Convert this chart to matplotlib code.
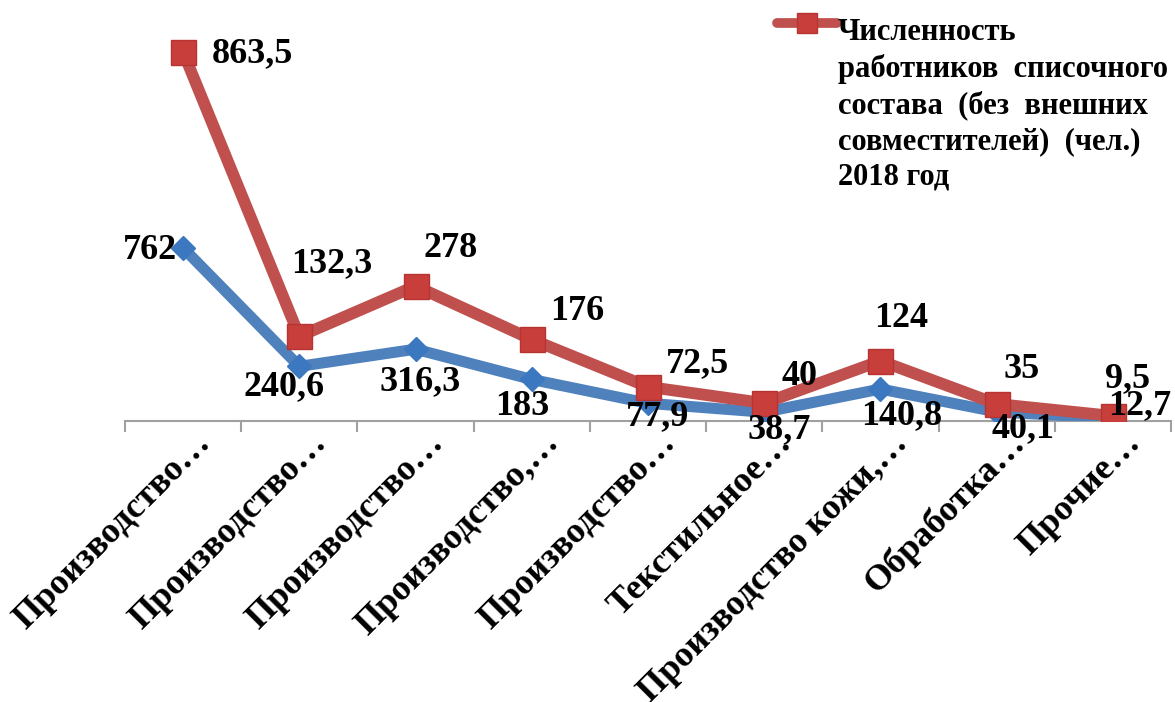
import numpy as np
import matplotlib
matplotlib.use("Agg")
import matplotlib.pyplot as plt
import matplotlib.transforms as mtransforms
from matplotlib.lines import Line2D

plt.rcParams["font.family"] = ["Liberation Serif", "DejaVu Serif"]
plt.rcParams["font.weight"] = "bold"

categories = ["Производство…", "Производство…", "Производство…", "Производство,…",
              "Производство…", "Текстильное…", "Производство кожи,…", "Обработка…", "Прочие…"]
blue_vals = np.array([762, 240.6, 316.3, 183, 77.9, 38.7, 140.8, 40.1, 12.7])
red_vals = np.array([863.5, 132.3, 278, 176, 72.5, 40, 124, 35, 9.5])
legend_label = ("Численность\nработников  списочного\nсостава  (без  внешних\n"
                "совместителей)  (чел.)\n2018 год")

# label offsets in pixels (dx right, dy down) from the marker
red_off = [(69, 2), (32, -73), (35, -38), (45, -28), (49, -23), (35, -27), (21, -42), (25, -34), (15, -37)]
blue_off = [(-33, 3), (-15, 20), (5, 32), (-10, 27), (10, 13), (15, 17), (21, 27), (26, 17), (27, -12)]

RED = "#C0504D"
BLUE = "#4F81BD"

def fmt(v):
    return f"{v:g}".replace(".", ",")

fig = plt.figure(figsize=(11.75, 7.02), dpi=100)
ax = fig.add_axes([125 / 1175, 1 - 421 / 702, 1046 / 1175, 421 / 702])

x = np.arange(len(categories))
stacked = blue_vals + red_vals

ax.plot(x, blue_vals, color=BLUE, lw=8, marker="D", ms=12,
        mfc="#3C78C0", mec="#3C78C0", zorder=3)
ax.plot(x, stacked, color=RED, lw=8.5, marker="s", ms=18,
        mfc="#C83E3B", mec="#B83432", mew=1, zorder=4)

for i in range(len(x)):
    dx, dy = blue_off[i]
    ax.annotate(fmt(blue_vals[i]), (x[i], blue_vals[i]), xytext=(dx, -dy),
                textcoords="offset pixels", ha="center", va="center",
                fontsize=26, fontweight="bold", color="black", zorder=5)
    dx, dy = red_off[i]
    ax.annotate(fmt(red_vals[i]), (x[i], stacked[i]), xytext=(dx, -dy),
                textcoords="offset pixels", ha="center", va="center",
                fontsize=26, fontweight="bold", color="black", zorder=5)

ax.set_xlim(-0.5, len(categories) - 0.5)
ax.set_ylim(0, 1854)
for s in ["top", "right", "left"]:
    ax.spines[s].set_visible(False)
ax.spines["bottom"].set_color("#A0A0A0")
ax.spines["bottom"].set_linewidth(1.5)
ax.yaxis.set_visible(False)

ax.set_xticks(x)
ax.set_xticks(np.arange(-0.5, len(categories), 1), minor=True)
ax.tick_params(axis="x", which="major", length=0, pad=4)
ax.tick_params(axis="x", which="minor", length=8, width=1.5, color="#A0A0A0", direction="out")
ax.set_xticklabels(categories, rotation=45, ha="right", va="top",
                   rotation_mode="anchor", fontsize=26, fontweight="bold")
shift = mtransforms.ScaledTranslation(8 / 72, 0, fig.dpi_scale_trans)
for lab in ax.get_xticklabels():
    lab.set_transform(lab.get_transform() + shift)

# legend (only the red series is visible)
fig.add_artist(Line2D([777 / 1175, 837 / 1175], [1 - 22.5 / 702, 1 - 22.5 / 702],
                      transform=fig.transFigure, color=RED, lw=7,
                      solid_capstyle="round"))
fig.add_artist(Line2D([807 / 1175], [1 - 22.5 / 702], transform=fig.transFigure,
                      marker="s", ms=15, mfc="#C83E3B", mec="#B83432", lw=0))
fig.text(838 / 1175, 1 - 18 / 702, legend_label, ha="left", va="top",
         fontsize=22, fontweight="bold", linespacing=1.3)

fig.savefig("out.png", dpi=100)
